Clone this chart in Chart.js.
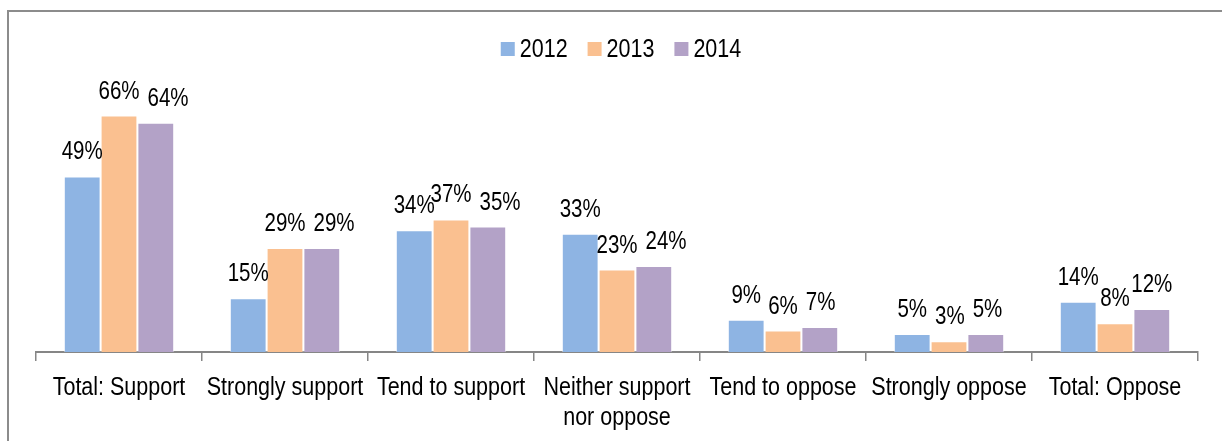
<!DOCTYPE html>
<html>
<head>
<meta charset="utf-8">
<script src="https://cdn.jsdelivr.net/npm/chart.js@4/dist/chart.umd.min.js"></script>
<style>
  html, body { margin: 0; padding: 0; background: #fff; overflow: hidden; }
  #frame {
    position: absolute; left: 7px; top: 10px; width: 1240px; height: 460px;
    border: 2px solid #8c8c8c; box-sizing: border-box;
  }
  #wrap { position: absolute; left: 0; top: 0; width: 1222px; height: 441px; }
</style>
</head>
<body>
<div id="frame"></div>
<div id="wrap"><canvas id="bar-chart"></canvas></div>
<script>
// answers per year, in percent
var categories = [
  'Total: Support',
  'Strongly support',
  'Tend to support',
  ['Neither support', 'nor oppose'],
  'Tend to oppose',
  'Strongly oppose',
  'Total: Oppose'
];
var years = ['2012', '2013', '2014'];
var values2012 = [49, 15, 34, 33, 9, 5, 14];
var values2013 = [66, 29, 37, 23, 6, 3, 8];
var values2014 = [64, 29, 35, 24, 7, 5, 12];
var colors = ['#8EB4E3', '#FAC090', '#B3A2C7'];

var fontFamily = "'Liberation Sans', Arial, sans-serif";

// draw text squeezed horizontally (narrow look)
function narrowText(ctx, text, x, y, sq) {
  ctx.save();
  ctx.translate(x, y);
  ctx.scale(sq, 1);
  ctx.fillText(text, 0, 0);
  ctx.restore();
}

// percent label above every bar; a label that runs into its left
// neighbour at about the same height is pushed to the right
var valueLabels = {
  id: 'valueLabels',
  afterDatasetsDraw: function(chart) {
    var ctx = chart.ctx;
    var sq = 0.82, gap = 8;
    ctx.save();
    ctx.font = '25px ' + fontFamily;
    ctx.fillStyle = '#000';
    ctx.textAlign = 'center';
    ctx.textBaseline = 'alphabetic';
    var metas = chart.data.datasets.map(function(ds, i) { return chart.getDatasetMeta(i); });
    chart.data.labels.forEach(function(c, j) {
      var prev = null;
      chart.data.datasets.forEach(function(ds, i) {
        var bar = metas[i].data[j];
        var text = ds.data[j] + '%';
        var w = ctx.measureText(text).width * sq;
        var x = bar.x, y = bar.y - 17;
        if (prev && Math.abs(prev.y - y) < 10 && x - w / 2 < prev.right + gap) {
          x = prev.right + gap + w / 2;
        }
        narrowText(ctx, text, x, y, sq);
        prev = { right: x + w / 2, y: y };
      });
    });
    ctx.restore();
  }
};

// category names under the axis, placed by the x scale
var categoryLabels = {
  id: 'categoryLabels',
  afterDraw: function(chart) {
    var ctx = chart.ctx;
    var xs = chart.scales.x;
    ctx.save();
    ctx.font = '25px ' + fontFamily;
    ctx.fillStyle = '#000';
    ctx.textAlign = 'center';
    ctx.textBaseline = 'alphabetic';
    chart.data.labels.forEach(function(lbl, i) {
      var lines = Array.isArray(lbl) ? lbl : [lbl];
      var x = xs.getPixelForValue(i);
      lines.forEach(function(line, k) {
        narrowText(ctx, line, x, xs.top + 43 + k * 30, 0.86);
      });
    });
    ctx.restore();
  }
};

// small legend on top: square, short gap, year
var topLegend = {
  id: 'topLegend',
  afterDraw: function(chart) {
    var ctx = chart.ctx;
    var box = 14, gap = 5, spacing = 20, sq = 0.86;
    ctx.save();
    ctx.font = '25px ' + fontFamily;
    var widths = chart.data.datasets.map(function(ds) {
      return box + gap + ctx.measureText(ds.label).width * sq;
    });
    var total = widths.reduce(function(a, b) { return a + b; }, 0) + spacing * (widths.length - 1);
    var x = (chart.chartArea.left + chart.chartArea.right) / 2 - total / 2 + 4;
    var cy = 49;
    ctx.textBaseline = 'middle';
    ctx.textAlign = 'left';
    chart.data.datasets.forEach(function(ds, i) {
      ctx.fillStyle = ds.backgroundColor;
      ctx.fillRect(x, cy - box / 2, box, box);
      ctx.fillStyle = '#000';
      narrowText(ctx, ds.label, x + box + gap, cy + 1, sq);
      x += widths[i] + spacing;
    });
    ctx.restore();
  }
};

var seriesValues = [values2012, values2013, values2014];
var datasets = years.map(function(y, i) {
  return {
    label: y,
    data: seriesValues[i],
    backgroundColor: colors[i],
    borderColor: 'rgba(255,255,255,0.5)',
    borderWidth: 1,
    categoryPercentage: 0.665,
    barPercentage: 1.0
  };
});

var ctx = document.getElementById('bar-chart');
var chart = new Chart(ctx, {
  type: 'bar',
  data: { labels: categories, datasets: datasets },
  plugins: [valueLabels, categoryLabels, topLegend],
  options: {
    responsive: true,
    maintainAspectRatio: false,
    animation: false,
    layout: { padding: { left: 36, right: 24, top: 69, bottom: 80 } },
    plugins: {
      tooltip: { enabled: false },
      legend: { display: false }
    },
    scales: {
      x: {
        grid: {
          display: true,
          offset: true,
          drawOnChartArea: false,
          drawTicks: true,
          tickLength: 9,
          color: '#868686',
          lineWidth: 1.5
        },
        border: { display: true, color: '#868686', width: 2 },
        ticks: { display: false }
      },
      y: {
        display: false,
        min: 0,
        max: 79
      }
    }
  }
});
</script>
</body>
</html>
